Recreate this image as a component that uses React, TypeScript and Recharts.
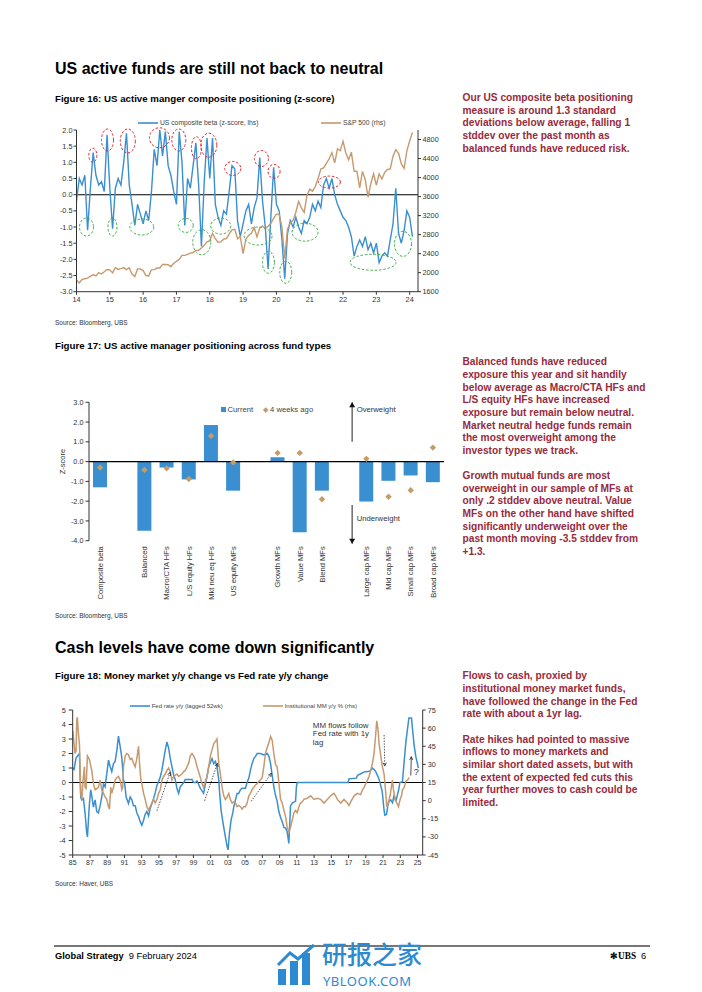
import React from "react";
import {
  LineChart,
  ComposedChart,
  Line,
  Bar,
  XAxis,
  YAxis,
  ReferenceLine,
  ReferenceDot,
} from "recharts";

const FONT = '"Liberation Sans", Arial, sans-serif';
const BLUE = "#3a8fd1";
const TAN = "#c6996e";
const DIAMOND = "#c49c6a";
const RED_TEXT = "#982a3b";
const AXIS = "#333";

// ---------------- Figure 16 data (monthly, Jan 2014 .. Feb 2024) ----------------
const FIG16_START_YEAR = 2014;
const compositeBetaZ = [
  -0.2, 0.5, 0.3, 0.6, -1.1, 0.2, 1.3, 0.6, 0.3, 0.4, 0.1, 1.85,
  0.2, -1.05, 0.2, 0.5, 0.3, 1.0, 1.9, 0.3, -0.3, -0.95, -0.3, -0.6,
  -0.9, -0.5, -0.8, 0.1, 1.4, 0.9, 2.0, 1.2, 1.95, 0.9, 0.6, 0.1,
  -0.3, 1.95, 1.0, -0.95, 0.5, 0.2, 0.9, 1.6, 0.3, -1.6, 0.4, 1.75,
  0.5, 1.75, -0.3, -0.7, -0.95, -0.5, -0.6, 0.1, 0.9, 0.8, -0.8, -1.3,
  -0.9, -0.5, -0.3, -0.9, -0.4, -0.1, 1.15, -0.2, -1.0, -2.3, -0.7, 0.85,
  -0.3, -0.5, -1.4, -2.6, -1.2, -0.8, -1.0, -0.7, -1.0, -1.2, -0.8, -0.9,
  -0.7, -0.3, -0.5, -0.2, -0.4, 0.3, 0.5, 0.2, 0.5, 0.0, -0.3, -0.5,
  -0.7, -0.8, -1.0, -1.3, -1.9, -1.6, -1.4, -1.6, -1.3, -1.7, -1.5, -1.8,
  -1.5, -2.1, -1.9, -1.8, -1.9, -1.4, -0.9, 0.2, -1.2, -1.5, -1.1, -0.5,
  -0.7, -1.3,
];
const sp500 = [
  1848, 1783, 1859, 1872, 1884, 1924, 1960, 1931, 2003, 1972, 2018, 2068,
  2059, 1995, 2105, 2068, 2086, 2107, 2063, 2104, 1972, 1920, 2079, 2080,
  2044, 1940, 1932, 2060, 2065, 2097, 2099, 2174, 2171, 2168, 2126, 2199,
  2239, 2279, 2364, 2363, 2384, 2412, 2423, 2470, 2472, 2519, 2575, 2648,
  2674, 2824, 2714, 2641, 2648, 2705, 2718, 2816, 2902, 2914, 2712, 2760,
  2400, 2704, 2784, 2834, 2946, 2752, 2942, 2980, 2926, 2977, 3038, 3141,
  3231, 3226, 2954, 2300, 2912, 3044, 3100, 3271, 3500, 3363, 3270, 3622,
  3756, 3714, 3811, 3973, 4181, 4204, 4298, 4395, 4523, 4308, 4605, 4567,
  4766, 4516, 4374, 4530, 4132, 4132, 3785, 4130, 3955, 3586, 3872, 4080,
  3840, 4077, 3970, 4109, 4169, 4180, 4450, 4589, 4508, 4288, 4194, 4568,
  4770, 4950,
];
const fig16YearTicks = [2014, 2015, 2016, 2017, 2018, 2019, 2020, 2021, 2022, 2023, 2024];
const fig16LeftTicks = [-3, -2.5, -2, -1.5, -1, -0.5, 0, 0.5, 1, 1.5, 2];
const fig16RightTicks = [1600, 2000, 2400, 2800, 3200, 3600, 4000, 4400, 4800];
// annotation ellipses (year, z-score)
const peakMarks = [
  { t: 2014.49, v: 1.22, rx: 4, ry: 7 },
  { t: 2014.93, v: 1.69, rx: 6, ry: 11 },
  { t: 2015.54, v: 1.66, rx: 7.5, ry: 12 },
  { t: 2016.49, v: 1.76, rx: 10, ry: 10 },
  { t: 2017.07, v: 1.69, rx: 7, ry: 11 },
  { t: 2017.6, v: 1.45, rx: 5, ry: 11 },
  { t: 2017.97, v: 1.53, rx: 8, ry: 12 },
  { t: 2018.69, v: 0.81, rx: 8, ry: 7 },
  { t: 2019.55, v: 1.12, rx: 7, ry: 8 },
  { t: 2019.93, v: 0.72, rx: 6, ry: 7 },
  { t: 2021.59, v: 0.39, rx: 11, ry: 6 },
];
const troughMarks = [
  { t: 2014.3, v: -1.0, rx: 7, ry: 9 },
  { t: 2015.08, v: -1.0, rx: 4.5, ry: 9 },
  { t: 2015.96, v: -1.0, rx: 12, ry: 8 },
  { t: 2017.28, v: -0.95, rx: 7.5, ry: 7 },
  { t: 2017.76, v: -1.47, rx: 9, ry: 12.5 },
  { t: 2018.33, v: -0.97, rx: 10, ry: 8 },
  { t: 2019.45, v: -1.28, rx: 14, ry: 9 },
  { t: 2019.76, v: -2.09, rx: 6, ry: 11 },
  { t: 2020.28, v: -2.4, rx: 6, ry: 11 },
  { t: 2020.86, v: -1.16, rx: 13, ry: 9 },
  { t: 2022.9, v: -2.09, rx: 23, ry: 8 },
  { t: 2023.8, v: -1.52, rx: 8.5, ry: 12.5 },
];

// ---------------- Figure 17 data ----------------
const fundTypes = [
  "Composite beta", "", "Balanced", "Macro/CTA HFs", "L/S equity HFs", "Mkt neu eq HFs",
  "US equity MFs", "", "Growth MFs", "Value MFs", "Blend MFs", "", "Large cap MFs",
  "Mid cap MFs", "Small cap MFs", "Broad cap MFs",
];
const currentZ = [-1.3, null, -3.5, -0.3, -0.9, 1.85, -1.47, null, 0.22, -3.57, -1.47, null, -2.02, -0.97, -0.7, -1.04];
const fourWeeksAgoZ = [-0.3, null, -0.42, -0.34, -0.88, 1.3, -0.04, null, 0.44, 0.44, -1.9, null, 0.14, -1.78, -1.45, 0.71];
const fig17Ticks = [-4, -3, -2, -1, 0, 1, 2, 3];

// ---------------- Figure 18 data ----------------
const fedYears = [
  1985.0, 1985.16, 1985.39, 1985.66, 1985.78, 1985.93, 1986.05, 1986.24, 1986.43, 1986.63, 1986.71, 1986.94,
  1987.09, 1987.21, 1987.4, 1987.6, 1987.79, 1987.98, 1988.18, 1988.37, 1988.57, 1988.76, 1988.95, 1989.15,
  1989.34, 1989.53, 1989.73, 1989.92, 1990.12, 1990.31, 1990.5, 1990.7, 1990.89, 1991.01, 1991.2, 1991.47,
  1991.67, 1991.86, 1992.05, 1992.25, 1992.44, 1992.64, 1992.83, 1993.02, 1993.22, 1993.41, 1993.6, 1993.8,
  1993.99, 1994.38, 1994.57, 1994.77, 1994.96, 1995.16, 1995.35, 1995.54, 1995.74, 1995.93, 1996.12, 1996.32,
  1996.51, 1996.71, 1996.9, 1997.09, 1997.29, 1997.48, 1997.87, 1998.06, 1998.45, 1998.84, 1999.03, 1999.22,
  1999.42, 1999.81, 2000.19, 2000.39, 2000.58, 2000.78, 2001.16, 2001.36, 2001.55, 2001.74, 2001.94, 2002.05,
  2002.21, 2002.44, 2002.71, 2002.91, 2003.02, 2003.18, 2003.37, 2003.57, 2003.68, 2003.88, 2004.07, 2004.26,
  2004.46, 2004.65, 2005.04, 2005.23, 2005.43, 2005.62, 2005.81, 2006.01, 2006.2, 2006.4, 2006.78, 2007.17,
  2007.56, 2007.76, 2007.95, 2008.14, 2008.33, 2008.53, 2008.72, 2008.91, 2009.11, 2009.3, 2009.5, 2009.69,
  2009.88, 2010.07, 2010.19, 2010.27, 2010.5, 2010.85, 2010.95, 2011.05, 2016.95, 2017.05, 2017.9, 2018.05,
  2018.4, 2018.9, 2019.1, 2019.5, 2019.77, 2019.95, 2020.15, 2020.5, 2020.9, 2021.1, 2021.2, 2021.4,
  2021.55, 2021.7, 2021.9, 2022.1, 2022.28, 2022.48, 2022.67, 2022.85, 2022.95, 2023.25, 2023.45, 2023.65,
  2023.85, 2024.0, 2024.3, 2024.45, 2024.6, 2024.8, 2025.1,
];
const fedRateYoY = [
  1.0, 0.9, 1.7, 1.9, 2.0, -1.0, -1.2, -1.1, -2.1, -3.5, -3.75, -1.45,
  -0.5, -0.9, -1.7, -1.2, -2.0, -2.1, -1.6, -1.0, -0.1, -0.3, 0.6, 1.55,
  1.1, 0.75, 1.3, 1.45, 2.2, 3.2, 2.5, 1.7, 0.17, 0.0, -1.0, -1.45,
  -1.0, -1.2, -1.6, -1.6, -2.1, -2.35, -2.7, -2.95, -2.6, -2.2, -2.0, -2.3,
  -1.8, -1.1, -0.7, -0.2, 0.05, 0.4, 0.85, 1.55, 2.25, 2.8, 2.4, 1.65,
  1.1, 0.5, 0.2, -0.4, -0.75, -0.3, 0.0, 0.2, 0.2, 0.2, 0.0, 0.0,
  0.1, -0.4, -0.75, -0.1, 0.4, 1.1, 1.65, 1.3, 1.45, 1.1, 0.2, -0.75,
  -1.9, -2.8, -3.75, -4.4, -4.65, -3.5, -2.6, -2.1, -1.7, -1.2, -0.75, -0.75,
  -0.5, -0.4, -0.4, 0.0, 0.3, 0.85, 1.3, 1.65, 1.8, 2.0, 2.0, 1.9,
  2.0, 1.8, 1.3, 0.5, -0.3, -0.9, -1.3, -2.0, -2.4, -2.7, -3.1, -3.15,
  -3.4, -4.2, -2.7, -1.6, -1.4, -1.3, -0.3, 0.0, 0.0, 0.25, 0.3, 0.5,
  0.6, 0.75, 0.75, 0.8, 1.0, 0.9, 0.75, 0.3, -0.6, -1.8, -2.25, -2.2,
  -1.6, -1.3, -1.2, -1.4, -0.85, -1.3, -0.85, -0.4, 0.0, 0.05, 1.45, 2.8,
  3.75, 4.45, 4.45, 3.5, 2.6, 1.8, 1.0,
];
const mmYears = [
  1985.0, 1985.16, 1985.27, 1985.39, 1985.47, 1985.54, 1985.66, 1985.78, 1985.85, 1985.93, 1986.05, 1986.24,
  1986.36, 1986.43, 1986.55, 1986.71, 1986.94, 1987.09, 1987.21, 1987.4, 1987.6, 1987.79, 1987.98, 1988.18,
  1988.37, 1988.57, 1988.76, 1988.95, 1989.15, 1989.26, 1989.42, 1989.53, 1989.73, 1989.92, 1990.12, 1990.31,
  1990.5, 1990.7, 1990.81, 1990.89, 1991.09, 1991.28, 1991.47, 1991.67, 1991.86, 1992.05, 1992.25, 1992.44,
  1992.64, 1992.75, 1992.91, 1993.02, 1993.22, 1993.41, 1993.6, 1993.8, 1993.99, 1994.19, 1994.38, 1994.57,
  1994.77, 1994.96, 1995.16, 1995.35, 1995.54, 1995.74, 1995.93, 1996.12, 1996.32, 1996.51, 1996.71, 1996.9,
  1997.09, 1997.29, 1997.48, 1997.67, 1997.87, 1998.06, 1998.26, 1998.45, 1998.64, 1998.84, 1999.03, 1999.22,
  1999.42, 1999.61, 1999.81, 2000.0, 2000.19, 2000.39, 2000.58, 2000.78, 2000.97, 2001.16, 2001.36, 2001.55,
  2001.74, 2001.94, 2002.13, 2002.33, 2002.52, 2002.71, 2002.91, 2003.1, 2003.29, 2003.49, 2003.68, 2003.88,
  2004.07, 2004.26, 2004.46, 2004.65, 2004.84, 2005.04, 2005.23, 2005.43, 2005.62, 2005.81, 2006.01, 2006.2,
  2006.4, 2006.59, 2006.78, 2006.98, 2007.17, 2007.36, 2007.56, 2007.76, 2007.95, 2008.14, 2008.33, 2008.53,
  2008.72, 2008.91, 2009.11, 2009.3, 2009.5, 2009.69, 2009.88, 2010.08, 2010.27, 2010.47, 2010.66, 2010.85,
  2011.05, 2011.24, 2011.43, 2011.63, 2011.82, 2012.21, 2012.6, 2012.98, 2013.37, 2013.76, 2014.15, 2014.53,
  2014.92, 2015.31, 2015.5, 2015.7, 2016.09, 2016.47, 2016.86, 2017.05, 2017.25, 2017.64, 2018.02, 2018.41,
  2018.6, 2018.8, 2018.99, 2019.19, 2019.38, 2019.57, 2019.77, 2019.96, 2020.16, 2020.27, 2020.43, 2020.54,
  2020.74, 2020.93, 2021.12, 2021.32, 2021.43, 2021.59, 2021.82, 2022.02, 2022.09, 2022.21, 2022.4, 2022.6,
  2022.79, 2022.98, 2023.14, 2023.26, 2023.45, 2023.64, 2023.84, 2024.03,
];
const institutionalMMYoY = [
  58, 47, 39, 41, 67, 69, 56, 47, 28, 6, 1, 20,
  28, 11, 10, 37, 34, 29, 25, 14, 9, 10, 11, 17,
  9, 6, 3, 1, -5, -7, 11, 6, 11, 17, 19, 20,
  17, 9, 11, 28, 37, 39, 38, 34, 35, 31, 28, 35,
  45, 31, 17, 14, 6, 1, -5, -8, -5, -2, 1, -2,
  1, 6, 9, 17, 20, 22, 25, 27, 24, 17, 20, 21,
  22, 20, 21, 22, 24, 25, 28, 31, 37, 39, 37, 34,
  28, 24, 19, 14, 11, 16, 20, 28, 37, 42, 47, 49,
  51, 31, 22, 11, 4, 1, 3, 6, 1, -2, -1, -2,
  -5, -4, -5, -7, -5, -5, -2, 4, 6, 9, 11, 13,
  14, 16, 17, 19, 28, 39, 44, 48, 53, 50, 39, 30,
  28, 15, 1, -2, -8, -13, -22, -26, -22, -16, -10, -8,
  -10, -5, -2, -1, 1, 2, 4, 1, 2, 1, -2, 1,
  4, 6, 4, 1, -2, 1, -2, -4, -1, 4, 6, 5,
  9, 11, 14, 17, 20, 25, 31, 39, 56, 66, 58, 47,
  37, 28, 22, 6, -5, -2, 4, 14, 17, 9, 1, -2,
  -5, 1, 4, 9, 11, 16, 17, 19,
];
const fig18YearTicks = [
  1985, 1987, 1989, 1991, 1993, 1995, 1997, 1999, 2001, 2003, 2005, 2007, 2009, 2011,
  2013, 2015, 2017, 2019, 2021, 2023, 2025,
];
const fig18LeftTicks = [-5, -4, -3, -2, -1, 0, 1, 2, 3, 4, 5];
const fig18RightTicks = [-45, -30, -15, 0, 15, 30, 45, 60, 75];
const lagArrows = [
  { from: { x: 1994.77, y: -1.95 }, to: { x: 1996.3, y: 0.7 }, dashed: true },
  { from: { x: 2000.3, y: -1.26 }, to: { x: 2001.8, y: 1.32 }, dashed: true },
  { from: { x: 2005.7, y: -1.3 }, to: { x: 2008.04, y: 0.63 }, dashed: true },
  { from: { x: 2021.12, y: 3.28 }, to: { x: 2021.2, y: 1.14 }, dashed: true },
  { from: { x: 2024.22, y: 0.48 }, to: { x: 2024.28, y: 1.78 }, dashed: false },
];

// ---------------- helpers ----------------
const betaSeries = compositeBetaZ.map((v, i) => ({ t: FIG16_START_YEAR + i / 12, v }));
const spSeries = sp500.map((v, i) => ({ t: FIG16_START_YEAR + i / 12, v }));
const fedSeries = fedYears.map((t, i) => ({ t, v: fedRateYoY[i] }));
const mmSeries = mmYears.map((t, i) => ({ t, v: institutionalMMYoY[i] }));
const fig17Rows = fundTypes.map((name, i) => ({
  key: `c${i}`,
  name,
  current: currentZ[i],
  prev: fourWeeksAgoZ[i],
}));

const tickStyle = { fontSize: 7.3, fill: "#333", fontFamily: FONT };

const ellipseShape = (rx: number, ry: number, color: string) => (p: any) => (
  <ellipse
    cx={p.cx}
    cy={p.cy}
    rx={rx}
    ry={ry}
    fill="none"
    stroke={color}
    strokeWidth={1}
    strokeDasharray="2.5 1.8"
  />
);

const arrowShape = (dashed: boolean) => (p: any) => {
  const { x1, y1, x2, y2 } = p;
  if (x1 == null || y1 == null) return <g />;
  const ang = Math.atan2(y2 - y1, x2 - x1);
  const h = 3.6;
  const a1 = ang + Math.PI - 0.45;
  const a2 = ang + Math.PI + 0.45;
  return (
    <g>
      <line
        x1={x1}
        y1={y1}
        x2={x2}
        y2={y2}
        stroke="#222"
        strokeWidth={0.8}
        strokeDasharray={dashed ? "1.4 1.4" : undefined}
      />
      <polyline
        points={`${x2 + h * Math.cos(a1)},${y2 + h * Math.sin(a1)} ${x2},${y2} ${x2 + h * Math.cos(a2)},${y2 + h * Math.sin(a2)}`}
        fill="none"
        stroke="#222"
        strokeWidth={0.8}
      />
    </g>
  );
};

const weightArrow = (label: string, up: boolean) => (p: any) => {
  const { x1, y1, y2 } = p;
  if (x1 == null) return <g />;
  const x = x1 + 8;
  const h = 3;
  return (
    <g>
      <line x1={x} y1={y1} x2={x} y2={y2} stroke="#555" strokeWidth={1.3} />
      <polygon
        points={
          up
            ? `${x - h},${y2 + 5} ${x},${y2} ${x + h},${y2 + 5}`
            : `${x - h},${y2 - 5} ${x},${y2} ${x + h},${y2 - 5}`
        }
        fill="#111"
      />
      <text
        x={x + 4.5}
        y={up ? y2 + 7 : y1 + 13}
        fontSize={7.7}
        fill="#333"
        fontFamily={FONT}
        dominantBaseline="central"
      >
        {label}
      </text>
    </g>
  );
};

const CategoryTick = (props: any) => {
  const { x, y, payload } = props;
  const idx = fig17Rows.findIndex((r) => r.key === payload.value);
  const label = idx >= 0 ? fig17Rows[idx].name : "";
  if (!label) return <g />;
  return (
    <text
      x={x}
      y={y}
      transform={`rotate(-90, ${x}, ${y})`}
      textAnchor="end"
      dy="0.36em"
      fontSize={7.6}
      fill="#333"
      fontFamily={FONT}
    >
      {label}
    </text>
  );
};

const diamondDot = (p: any) => {
  const { cx, cy, value, index } = p;
  if (value == null || cx == null || cy == null) return <g key={`d${index}`} />;
  const s = 3.2;
  return (
    <polygon
      key={`d${index}`}
      points={`${cx},${cy - s} ${cx + s},${cy} ${cx},${cy + s} ${cx - s},${cy}`}
      fill={DIAMOND}
    />
  );
};

const noteShape = (p: any) => (
  <text x={p.cx} y={p.cy} fontSize={7.9} fill="#333" fontFamily={FONT} dominantBaseline="central">
    <tspan x={p.cx} dy={0}>MM flows follow</tspan>
    <tspan x={p.cx} dy={8.5}>Fed rate with 1y</tspan>
    <tspan x={p.cx} dy={8.5}>lag</tspan>
  </text>
);

const questionShape = (p: any) => (
  <text x={p.cx} y={p.cy} fontSize={9} fill="#333" fontFamily={FONT} dominantBaseline="central">
    ?
  </text>
);

// ---------------- charts ----------------
function Fig16() {
  return (
    <LineChart width={420} height={200} margin={{ top: 15, right: 2, bottom: 3.3, left: 0 }}>
      <XAxis
        type="number"
        dataKey="t"
        domain={[2014, 2024.25]}
        ticks={fig16YearTicks}
        tickFormatter={(t: number) => String(Math.round(t)).slice(2)}
        allowDataOverflow
        stroke={AXIS}
        tick={tickStyle}
        tickSize={3}
        tickMargin={2}
        height={20}
      />
      <YAxis
        yAxisId="l"
        domain={[-3, 2]}
        ticks={fig16LeftTicks}
        tickFormatter={(v: number) => v.toFixed(1)}
        stroke={AXIS}
        tick={tickStyle}
        tickSize={3}
        tickMargin={1}
        width={36.5}
        allowDataOverflow
      />
      <YAxis
        yAxisId="r"
        orientation="right"
        domain={[1600, 5000]}
        ticks={fig16RightTicks}
        stroke={AXIS}
        tick={tickStyle}
        tickSize={3}
        tickMargin={1.5}
        width={40}
        allowDataOverflow
      />
      <ReferenceLine yAxisId="l" y={0} stroke="#000" strokeWidth={1.1} />
      <Line
        yAxisId="l"
        data={betaSeries}
        dataKey="v"
        stroke={BLUE}
        strokeWidth={1.4}
        dot={false}
        activeDot={false}
        isAnimationActive={false}
      />
      <Line
        yAxisId="r"
        data={spSeries}
        dataKey="v"
        stroke={TAN}
        strokeWidth={1.4}
        dot={false}
        activeDot={false}
        isAnimationActive={false}
      />
      {peakMarks.map((m, i) => (
        <ReferenceDot
          key={`p${i}`}
          yAxisId="l"
          x={m.t}
          y={m.v}
          r={1}
          shape={ellipseShape(m.rx, m.ry, "#e0262b")}
        />
      ))}
      {troughMarks.map((m, i) => (
        <ReferenceDot
          key={`g${i}`}
          yAxisId="l"
          x={m.t}
          y={m.v}
          r={1}
          shape={ellipseShape(m.rx, m.ry, "#3fae49")}
        />
      ))}
    </LineChart>
  );
}

function Fig17() {
  return (
    <ComposedChart
      width={405}
      height={215}
      data={fig17Rows}
      margin={{ top: 12.3, right: 6, bottom: 2.3, left: 0 }}
      barCategoryGap="18%"
    >
      <XAxis
        dataKey="key"
        axisLine={false}
        tickLine={false}
        tickSize={0}
        tickMargin={5.5}
        interval={0}
        tick={<CategoryTick />}
        height={62}
      />
      <YAxis
        domain={[-4, 3]}
        ticks={fig17Ticks}
        tickFormatter={(v: number) => v.toFixed(1)}
        stroke={AXIS}
        tick={tickStyle}
        tickSize={3.5}
        tickMargin={2}
        width={44}
        label={(props: any) => {
          const vb = props.viewBox || {};
          const cx = (vb.x ?? 0) + 17;
          const cy = (vb.y ?? 0) + (vb.height ?? 0) / 2 - 10;
          return (
            <text
              x={cx}
              y={cy}
              transform={`rotate(-90, ${cx}, ${cy})`}
              textAnchor="middle"
              fontSize={7.5}
              fill="#333"
              fontFamily={FONT}
              dominantBaseline="central"
            >
              Z-score
            </text>
          );
        }}
      />
      <Bar dataKey="current" fill={BLUE} barSize={14} isAnimationActive={false} />
      <ReferenceLine y={0} stroke="#000" strokeWidth={1.1} />
      <Line
        dataKey="prev"
        stroke="none"
        dot={diamondDot}
        activeDot={false}
        isAnimationActive={false}
        legendType="none"
      />
      <ReferenceLine
        segment={[
          { x: "c11", y: 1.0 },
          { x: "c11", y: 3.0 },
        ]}
        ifOverflow="visible"
        shape={weightArrow("Overweight", true)}
      />
      <ReferenceLine
        segment={[
          { x: "c11", y: -2.2 },
          { x: "c11", y: -4.15 },
        ]}
        ifOverflow="visible"
        shape={weightArrow("Underweight", false)}
      />
    </ComposedChart>
  );
}

function Fig18() {
  return (
    <LineChart width={420} height={180} margin={{ top: 15, right: 2.3, bottom: 2, left: 0 }}>
      <XAxis
        type="number"
        dataKey="t"
        domain={[1985, 2025.6]}
        ticks={fig18YearTicks}
        tickFormatter={(t: number) => String(Math.round(t)).slice(2)}
        allowDataOverflow
        stroke={AXIS}
        tick={{ ...tickStyle, fontSize: 7 }}
        tickSize={3}
        tickMargin={2}
        height={18}
      />
      <YAxis
        yAxisId="l"
        domain={[-5, 5]}
        ticks={fig18LeftTicks}
        stroke={AXIS}
        tick={tickStyle}
        tickSize={4}
        tickMargin={3}
        width={42.7}
        allowDataOverflow
      />
      <YAxis
        yAxisId="r"
        orientation="right"
        domain={[-45, 75]}
        ticks={fig18RightTicks}
        stroke={AXIS}
        tick={tickStyle}
        tickSize={3}
        tickMargin={2}
        width={25}
        allowDataOverflow
      />
      <ReferenceLine yAxisId="l" y={0} stroke="#000" strokeWidth={1.1} />
      <Line
        yAxisId="l"
        data={fedSeries}
        dataKey="v"
        stroke={BLUE}
        strokeWidth={1.5}
        dot={false}
        activeDot={false}
        isAnimationActive={false}
      />
      <Line
        yAxisId="r"
        data={mmSeries}
        dataKey="v"
        stroke={TAN}
        strokeWidth={1.5}
        dot={false}
        activeDot={false}
        isAnimationActive={false}
      />
      {lagArrows.map((a, i) => (
        <ReferenceLine
          key={`a${i}`}
          yAxisId="l"
          segment={[a.from, a.to]}
          ifOverflow="visible"
          shape={arrowShape(a.dashed)}
        />
      ))}
      <ReferenceDot yAxisId="l" x={2012.86} y={4.0} r={1} ifOverflow="visible" shape={noteShape} />
      <ReferenceDot yAxisId="l" x={2024.55} y={0.72} r={1} ifOverflow="visible" shape={questionShape} />
    </LineChart>
  );
}

// ---------------- page ----------------
const abs = (left: number, top: number, extra: React.CSSProperties = {}): React.CSSProperties => ({
  position: "absolute",
  left,
  top,
  whiteSpace: "nowrap",
  ...extra,
});

const LegendLine = ({ color }: { color: string }) => (
  <svg width={20} height={6} style={{ display: "inline-block", verticalAlign: "middle" }}>
    <line x1={0} y1={3} x2={20} y2={3} stroke={color} strokeWidth={1.6} />
  </svg>
);

const para1 = [
  "Our US composite beta positioning",
  "measure is around 1.3 standard",
  "deviations below average, falling 1",
  "stddev over the past month as",
  "balanced funds have reduced risk.",
];
const para2 = [
  "Balanced funds have reduced",
  "exposure this year and sit handily",
  "below average as Macro/CTA HFs and",
  "L/S equity HFs have increased",
  "exposure but remain below neutral.",
  "Market neutral hedge funds remain",
  "the most overweight among the",
  "investor types we track.",
  "",
  "Growth mutual funds are most",
  "overweight in our sample of MFs at",
  "only .2 stddev above neutral. Value",
  "MFs on the other hand have shifted",
  "significantly underweight over the",
  "past month moving -3.5 stddev from",
  "+1.3.",
];
const para3 = [
  "Flows to cash, proxied by",
  "institutional money market funds,",
  "have followed the change in the Fed",
  "rate with about a 1yr lag.",
  "",
  "Rate hikes had pointed to massive",
  "inflows to money markets and",
  "similar short dated assets, but with",
  "the extent of expected fed cuts this",
  "year further moves to cash could be",
  "limited.",
];

const SideText = ({ lines, top }: { lines: string[]; top: number }) => (
  <div
    style={abs(462.5, top, {
      fontSize: 10.2,
      lineHeight: "12.65px",
      fontWeight: 700,
      color: RED_TEXT,
    })}
  >
    {lines.map((l, i) => (
      <div key={i} style={{ height: 12.65 }}>
        {l}
      </div>
    ))}
  </div>
);

export default function App() {
  return (
    <div
      style={{
        position: "absolute",
        left: 0,
        top: 0,
        width: 702,
        height: 992,
        background: "#fff",
        fontFamily: FONT,
        overflow: "hidden",
        color: "#000",
      }}
    >
      {/* Section 1 */}
      <div style={abs(55, 59, { fontSize: 16, lineHeight: "20px", fontWeight: 700 })}>
        US active funds are still not back to neutral
      </div>
      <div style={abs(55, 93, { fontSize: 9.7, lineHeight: "12px", fontWeight: 700 })}>
        Figure 16: US active manger composite positioning (z-score)
      </div>
      <SideText lines={para1} top={92} />

      <div style={abs(138, 118, { fontSize: 6.8, lineHeight: "9px", color: "#444" })}>
        <LegendLine color={BLUE} /> <span>US composite beta (z-score, lhs)</span>
      </div>
      <div style={abs(321, 118, { fontSize: 6.8, lineHeight: "9px", color: "#444" })}>
        <LegendLine color={TAN} /> <span>S&amp;P 500 (rhs)</span>
      </div>
      <div style={abs(40, 115)}>
        <Fig16 />
      </div>
      <div style={abs(55, 319, { fontSize: 6.5, lineHeight: "8px", color: "#333" })}>
        Source: Bloomberg, UBS
      </div>

      {/* Figure 17 */}
      <div style={abs(55, 340, { fontSize: 9.7, lineHeight: "12px", fontWeight: 700 })}>
        Figure 17: US active manager positioning across fund types
      </div>
      <SideText lines={para2} top={356.4} />
      <div style={abs(45, 390)}>
        <Fig17 />
      </div>
      <div style={abs(220.5, 404.5, { fontSize: 7.7, lineHeight: "10px", color: "#444" })}>
        <span
          style={{
            display: "inline-block",
            width: 5,
            height: 5,
            background: BLUE,
            marginRight: 2,
            verticalAlign: "middle",
          }}
        />
        <span style={{ verticalAlign: "middle" }}>Current</span>
      </div>
      <div style={abs(264, 404.5, { fontSize: 7.7, lineHeight: "10px", color: "#444" })}>
        <span
          style={{
            display: "inline-block",
            width: 3.5,
            height: 3.5,
            background: DIAMOND,
            transform: "rotate(45deg)",
            marginRight: 2.5,
            verticalAlign: "middle",
          }}
        />
        <span style={{ verticalAlign: "middle" }}>4 weeks ago</span>
      </div>
      <div style={abs(55, 612, { fontSize: 6.5, lineHeight: "8px", color: "#333" })}>
        Source: Bloomberg, UBS
      </div>

      {/* Section 2 */}
      <div style={abs(55, 638, { fontSize: 16, lineHeight: "20px", fontWeight: 700 })}>
        Cash levels have come down significantly
      </div>
      <div style={abs(55, 670, { fontSize: 9.7, lineHeight: "12px", fontWeight: 700 })}>
        Figure 18: Money market y/y change vs Fed rate y/y change
      </div>
      <SideText lines={para3} top={670.4} />
      <div style={abs(130, 702, { fontSize: 6, lineHeight: "8px", color: "#444" })}>
        <LegendLine color={BLUE} /> <span>Fed rate y/y (lagged 52wk)</span>
      </div>
      <div style={abs(263, 702, { fontSize: 6, lineHeight: "8px", color: "#444" })}>
        <LegendLine color={TAN} /> <span>Institutional MM y/y % (rhs)</span>
      </div>
      <div style={abs(30, 695)}>
        <Fig18 />
      </div>
      <div style={abs(55, 880, { fontSize: 6.5, lineHeight: "8px", color: "#333" })}>
        Source: Haver, UBS
      </div>

      {/* Footer */}
      <div style={abs(54, 945, { width: 596, height: 1.5, background: "#777" })} />
      <div style={abs(55, 951, { fontSize: 9.3, lineHeight: "11px" })}>
        <b>Global Strategy</b>
        <span style={{ marginLeft: 5 }}>9 February 2024</span>
      </div>
      <div style={abs(610, 951, { fontSize: 9.3, lineHeight: "11px" })}>
        <span style={{ fontFamily: '"Liberation Serif", serif', fontWeight: 700 }}>✻UBS</span>
        <span style={{ marginLeft: 5 }}>6</span>
      </div>

      {/* Watermark */}
      <svg style={abs(276, 941)} width={44} height={46}>
        <rect x={2} y={28} width={8} height={16} fill="#2d8ad0" />
        <rect x={14} y={20} width={8} height={24} fill="#2d8ad0" />
        <rect x={26} y={12} width={8} height={32} fill="#2d8ad0" />
        <polyline points="2,24 14,12 22,18 38,4" fill="none" stroke="#2d8ad0" strokeWidth={3} />
      </svg>
      <div
        style={abs(322, 939, {
          fontSize: 25,
          lineHeight: "28px",
          height: 28,
          color: "#2d8ad0",
          fontFamily: '"Noto Sans CJK SC", sans-serif',
          fontWeight: 500,
        })}
      >
        研报之家
      </div>
      <div
        style={abs(323, 975, {
          fontSize: 13,
          lineHeight: "12px",
          height: 12,
          color: "#2d8ad0",
          fontFamily: '"Noto Sans", sans-serif',
          letterSpacing: 0.5,
        })}
      >
        YBLOOK.COM
      </div>
    </div>
  );
}
